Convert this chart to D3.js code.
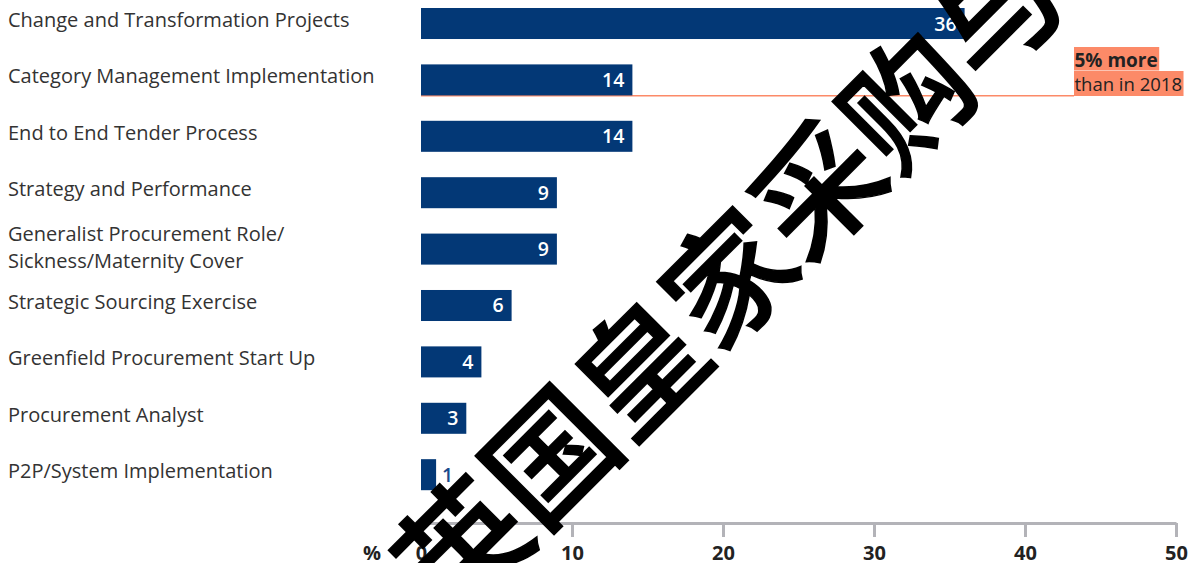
<!DOCTYPE html>
<html>
<head>
<meta charset="utf-8">
<script src="https://cdn.jsdelivr.net/npm/d3@7"></script>
<style>
  html, body { margin: 0; padding: 0; background: #fff; }
  svg { display: block; }
</style>
</head>
<body>
<svg id="chart" width="1195" height="563"></svg>
<script>
// Project types (top to bottom) and share of respondents, %
const categories = [
  "Change and Transformation Projects",
  "Category Management Implementation",
  "End to End Tender Process",
  "Strategy and Performance",
  "Generalist Procurement Role/\nSickness/Maternity Cover",
  "Strategic Sourcing Exercise",
  "Greenfield Procurement Start Up",
  "Procurement Analyst",
  "P2P/System Implementation"
];
const values = [36, 14, 14, 9, 9, 6, 4, 3, 1];
const xTicks = [0, 10, 20, 30, 40, 50];
const axisUnit = "%";

// Callout attached to one bar
const calloutCategory = "Category Management Implementation";
const calloutLines = ["5% more", "than in 2018"];

// Diagonal overlay text
const overlayText = "英国皇家采购与供应学会";

const barColor = "#033876";
const accent = "#fc8a68";
const textColor = "#333";

const svg = d3.select("#chart");

const x = d3.scaleLinear().domain([0, 50]).range([421, 1176]);
const y = d3.scaleBand()
  .domain(categories)
  .range([8, 490.2])
  .paddingInner(0.45)
  .paddingOuter(0);

// Callout leader line along the bottom of its bar
const cy = Math.round(y(calloutCategory) + y.bandwidth());
svg.append("rect")
  .attr("x", x(0)).attr("y", cy)
  .attr("width", 1074 - x(0)).attr("height", 1.5)
  .attr("fill", accent);

// Bars
svg.append("g").selectAll("rect")
  .data(categories)
  .join("rect")
  .attr("x", x(0))
  .attr("y", d => y(d))
  .attr("width", (d, i) => x(values[i]) - x(0))
  .attr("height", y.bandwidth())
  .attr("fill", barColor);

// Value labels: inside the bar end, or just outside when the bar is short
svg.append("g").selectAll("text")
  .data(categories)
  .join("text")
  .attr("font-family", "'Open Sans', sans-serif")
  .attr("font-size", 19.5)
  .attr("font-weight", 600)
  .attr("y", d => y(d) + y.bandwidth() / 2 + 7)
  .each(function(d, i) {
    const inside = x(values[i]) - x(0) > 30;
    d3.select(this)
      .attr("x", inside ? x(values[i]) - 8 : x(values[i]) + 6)
      .attr("text-anchor", inside ? "end" : "start")
      .attr("fill", inside ? "#fff" : "#1a4a8c")
      .text(values[i]);
  });

// Category labels (multi-line where the name contains a break)
const lineH = 27.6;
svg.append("g").selectAll("text")
  .data(categories)
  .join("text")
  .attr("font-family", "'Open Sans', sans-serif")
  .attr("font-size", 20)
  .attr("fill", textColor)
  .each(function(d) {
    const lines = d.split("\n");
    const c = y(d) + y.bandwidth() / 2 + 3.5 + (lines.length > 1 ? 2 : 0);
    d3.select(this).selectAll("tspan")
      .data(lines)
      .join("tspan")
      .attr("x", 8)
      .attr("y", (l, k) => c + (k - (lines.length - 1) / 2) * lineH)
      .text(l => l);
  });

// X axis
const axisY = 523;
const axis = svg.append("g")
  .attr("transform", `translate(0,${axisY})`)
  .call(d3.axisBottom(x).tickValues(xTicks).tickSize(14).tickSizeOuter(0));
axis.select(".domain").attr("stroke", "#b3b3b8").attr("stroke-width", 3);
axis.selectAll(".tick line").attr("stroke", "#b3b3b8").attr("stroke-width", 3);
axis.selectAll(".tick text")
  .attr("y", 36.5).attr("dy", 0)
  .attr("font-family", "'Open Sans', sans-serif")
  .attr("font-size", 20)
  .attr("font-weight", 700)
  .attr("fill", "#222");
svg.append("text")
  .attr("x", 372).attr("y", axisY + 36.5)
  .attr("text-anchor", "middle")
  .attr("font-family", "'Open Sans', sans-serif")
  .attr("font-size", 20)
  .attr("font-weight", 700)
  .attr("fill", "#222")
  .text(axisUnit);

// Callout box: highlighted text, one band per line
const callout = svg.append("g").attr("transform", "translate(1074,47)");
calloutLines.forEach((line, k) => {
  const g = callout.append("g").attr("transform", `translate(0,${k * 24})`);
  const bg = g.append("rect").attr("fill", accent);
  const t = g.append("text")
    .attr("x", 0.5).attr("y", 19.5)
    .attr("font-family", "'Open Sans', sans-serif")
    .attr("font-size", k === 0 ? 19 : 18.5)
    .attr("font-weight", k === 0 ? 700 : 400)
    .attr("fill", "#222")
    .text(line);
  const w = t.node().getComputedTextLength();
  bg.attr("x", 0).attr("y", 0).attr("width", w + 2).attr("height", k === 0 ? 23.5 : 25);
});

// Diagonal overlay text, on top of everything
const fs = 126;
svg.append("g")
  .attr("transform", "translate(545,451) rotate(-45)")
  .append("text")
  .attr("x", -fs * 1.5)
  .attr("y", 0)
  .attr("dominant-baseline", "central")
  .attr("font-family", "'Noto Sans CJK SC', sans-serif")
  .attr("font-size", fs)
  .attr("font-weight", 500)
  .attr("fill", "#000")
  .attr("stroke", "#000")
  .attr("stroke-width", 1.5)
  .text(overlayText);
</script>
</body>
</html>
